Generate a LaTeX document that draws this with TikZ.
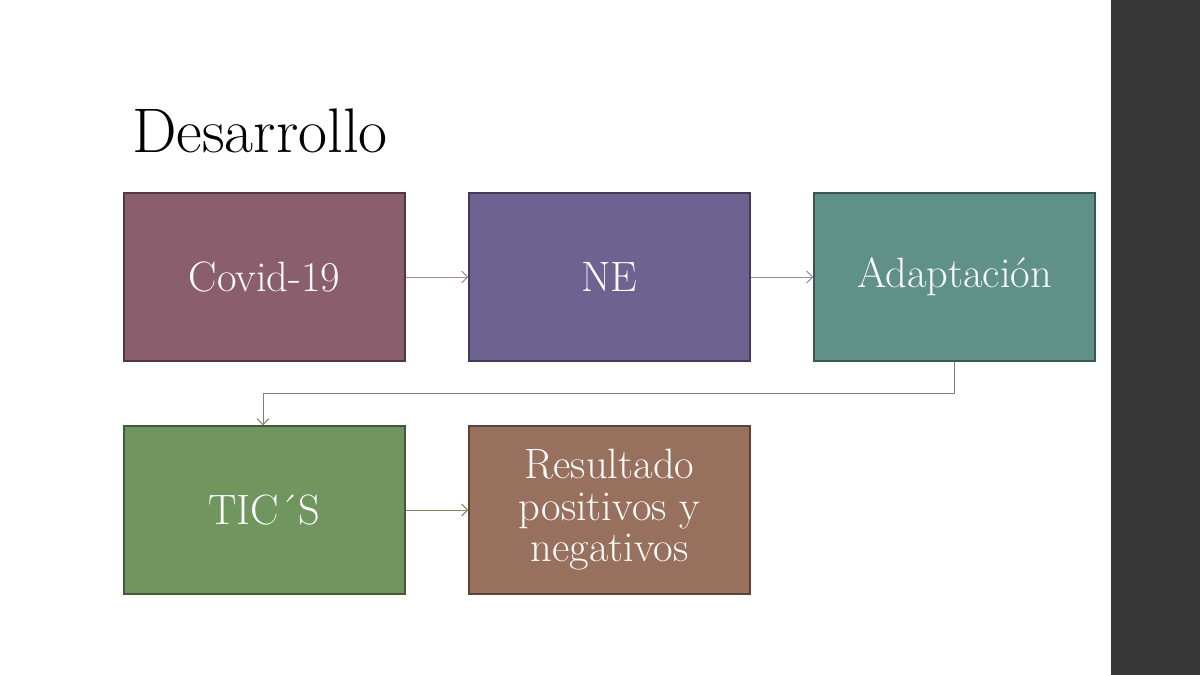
\documentclass[tikz,border=0pt]{standalone}
\usetikzlibrary{arrows.meta}
\definecolor{cvd}{HTML}{8B5E6E}
\definecolor{ne}{HTML}{6E6390}
\definecolor{ada}{HTML}{5F9189}
\definecolor{tic}{HTML}{71955E}
\definecolor{res}{HTML}{97705E}
\definecolor{bar}{HTML}{363636}
\tikzset{
  box/.style={draw=#1!60!black, fill=#1, line width=1.2pt, minimum width=281pt, minimum height=168pt, inner sep=0pt,
    text=white!96!gray, align=center, font=\fontsize{42.5}{41.5}\selectfont},
  link/.style={-{Straight Barb[length=6pt,width=12pt]}, line width=1pt},
}
\begin{document}
\begin{tikzpicture}[x=1pt,y=-1pt]
\useasboundingbox (0,0) rectangle (1200,675);
\fill[white] (0,0) rectangle (1200,675);
\fill[bar] (1111,0) rectangle (1200,675);
\node[anchor=base west, font=\fontsize{63}{65}\selectfont, inner sep=0pt] (title) at (132,152) {Desarrollo};
\node[box=cvd] (covid) at (264.5,277) {Covid-19};
\node[box=ne] (ne) at (609.5,277) {NE};
\node[box=ada] (ada) at (954.5,277) {Adaptación};
\node[box=tic] (tic) at (264.5,510) {TIC´S};
\node[box=res] (res) at (609.5,510) {Resultado\\positivos y\\negativos};
\coordinate (c1) at (954.5,393);
\coordinate (c2) at (263,393);
\draw[link, draw=cvd!75] (covid) -- (ne);
\draw[link, draw=ne!75] (ne) -- (ada);
\draw[link, draw=gray!80!tic] (ada.south) -- (c1) -- (c2) -- (tic.north -| c2);
\draw[link, draw=tic!60!res] (tic) -- (res);
\end{tikzpicture}
\end{document}
